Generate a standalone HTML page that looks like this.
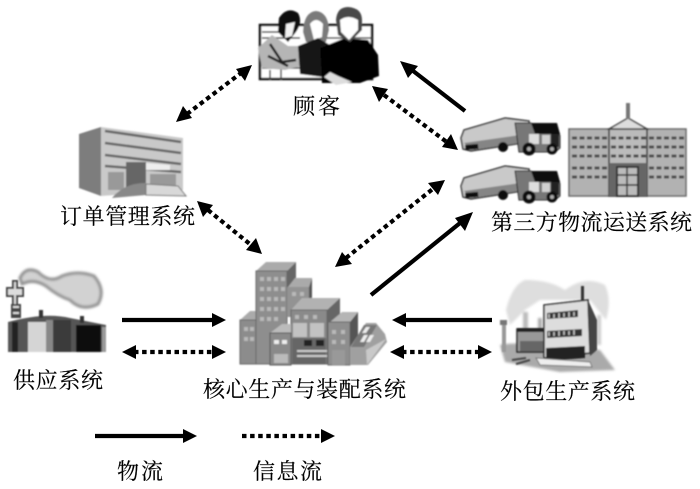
<!DOCTYPE html>
<html><head><meta charset="utf-8">
<style>
html,body{margin:0;padding:0;background:#fff;width:700px;height:489px;overflow:hidden}
svg{display:block}
text{font-family:"Liberation Serif","Noto Serif CJK SC",serif;font-size:22px;fill:#000;stroke:#000;stroke-width:.15px}
</style></head><body>
<svg width="700" height="489" viewBox="0 0 700 489" xmlns="http://www.w3.org/2000/svg">
<defs>
<filter id="b" x="-10%" y="-10%" width="120%" height="120%"><feGaussianBlur stdDeviation="0.7"/></filter>
<filter id="c" x="-20%" y="-20%" width="140%" height="140%"><feGaussianBlur stdDeviation="1.4"/></filter>
<filter id="t" x="-5%" y="-20%" width="110%" height="140%"><feGaussianBlur stdDeviation="0.3"/></filter>
<g id="truck">
<path d="M0 20 L3 12 L44 0 L68 3 L68 24 L10 33 L2 31Z" fill="#c9c9c9" stroke="#333" stroke-width="1.5"/>
<path d="M3 25 L66 16 L66 24 L10 32Z" fill="#858585"/>
<path d="M54 5 H70 L74 8 H96 L99 18 V30 L94 34 H58Z" fill="#777" stroke="#222"/>
<path d="M70 5 H96 L99 16 H74Z" fill="#0a0a0a"/>
<rect x="68" y="16" width="10" height="10" fill="#ddd"/><rect x="81" y="17" width="8" height="9" fill="#d0d0d0"/>
<rect x="90" y="16" width="8" height="13" fill="#222"/>
<circle cx="42" cy="29" r="5" fill="#111"/><circle cx="68" cy="31" r="6.5" fill="#0a0a0a"/><circle cx="68" cy="31" r="2.2" fill="#aaa"/><circle cx="91" cy="31" r="5.5" fill="#0a0a0a"/><circle cx="91" cy="31" r="2" fill="#aaa"/>
<rect x="4" y="27" width="13" height="5" fill="#111" transform="rotate(-5 4 27)"/>
</g>
</defs>

<!-- customers -->
<g filter="url(#b)">
<path d="M260 25 H372 V79 H260Z" fill="#fff" stroke="#111" stroke-width="2.5"/>
<path d="M262 38H300M262 32H285M320 38H372" stroke="#444" stroke-width="1.5"/>
<path d="M262 60H300M262 68H300M281 60V80M270 70V80" stroke="#444" stroke-width="1.5"/>
<path d="M258 48 L272 35 L288 46 L300 46 L302 66 L285 70 L262 68Z" fill="#b5b5b5"/>
<path d="M270 44 L282 62 L296 60 M268 56 L288 66" stroke="#222" stroke-width="2.5" fill="none"/>
<path d="M279 18 Q287 6 298 13 Q303 22 296 32 L288 42 L278 32Z" fill="#0a0a0a"/>
<path d="M286 24 L295 22 L292 36 L285 38Z" fill="#f2f2f2"/>
<path d="M303 32 Q304 12 316 11 Q328 12 329 30 L326 42 L306 42Z" fill="#7a7a7a"/>
<path d="M310 24 Q316 16 323 24 L322 37 L314 40Z" fill="#fff"/>
<path d="M298 46 L318 38 L330 45 V78 L300 74Z" fill="#151515"/>
<path d="M320 48 L345 38 L368 40 L378 55 L379 76 L360 83 H322Z" fill="#050505"/>
<path d="M336 20 Q337 7 348 7 Q362 8 362 20 V30 L350 42 L338 35Z" fill="#4a4a4a"/>
<path d="M340 20 Q348 14 358 20 V30 L349 40 L341 32Z" fill="#fff"/>
<path d="M324 77 L336 85 L352 82 L338 76 L330 72Z" fill="#ddd"/>
</g>

<!-- order management building -->
<g filter="url(#b)">
<path d="M79 134 L101 127 V196 L79 188Z" fill="#7d7d7d"/>
<path d="M101 127 L183 138 V190 L101 196Z" fill="#c9c9c9"/>
<path d="M105 131 L181 142 M105 143 L181 153 M105 155 L181 164 M105 166 L181 172" stroke="#666" stroke-width="2.5"/>
<rect x="126" y="162" width="20" height="26" fill="#666"/>
<path d="M146 163 L170 165 V170 L146 170Z" fill="#eee"/>
<path d="M108 172H124V190H108ZM150 174H176V188H150Z" fill="#999"/>
<path d="M112 198 Q124 183 146 183 L146 195Z" fill="#888"/>
<path d="M146 184 L178 186 L186 196 L146 195Z" fill="#d8d8d8" stroke="#777"/>
</g>

<!-- truck & HQ -->
<g filter="url(#b)">
<use href="#truck" x="461" y="118"/>
<use href="#truck" x="461" y="166"/>
<rect x="569" y="129" width="117" height="67" fill="#b2b2b2" stroke="#666" stroke-width="1.5"/>
<rect x="609" y="129" width="38" height="67" fill="#bbb" stroke="#333" stroke-width="1.5"/>
<path d="M609 129 L628 118 L647 129Z" fill="#ddd" stroke="#444" stroke-width="1.5"/>
<rect x="626" y="103" width="4" height="16" fill="#777"/>
<g stroke="#4a4a4a" stroke-width="3" stroke-dasharray="5 2.5" fill="none">
<path d="M572 138H608M572 147H608M572 156H608M572 168H608M572 177H608"/>
<path d="M611 138H646M611 147H646M611 156H646"/>
<path d="M649 138H684M649 147H684M649 156H684M649 168H684M649 177H684"/>
</g>
<rect x="609" y="163" width="38" height="33" fill="#666"/>
<rect x="617" y="167" width="21" height="29" fill="#bbb" stroke="#333" stroke-width="2"/>
<path d="M617 175H638M617 185H638M627 167V196" stroke="#333" stroke-width="1.5"/>
</g>

<!-- supply factory -->
<g filter="url(#c)">
<path d="M20 278 Q26 266 38 272 Q50 284 62 276 Q78 270 94 276 Q106 290 98 304 Q82 312 70 300 Q58 296 46 286 Q34 278 22 284Z" fill="#d2d2d2" stroke="#8f8f8f" stroke-width="3"/>
</g>
<g filter="url(#b)">
<path d="M13 281V288H7V296H13V305H17V296H23V288H17V281Z" fill="#ddd" stroke="#444" stroke-width="2"/>
<path d="M11 304H21V318H11Z" fill="#444"/>
<path d="M13 307H19M13 313H19" stroke="#ddd" stroke-width="2"/>
<path d="M8 322 Q45 312 70 318 L106 325 V352 H8Z" fill="#555"/>
<rect x="12" y="322" width="6" height="30" fill="#222"/>
<rect x="28" y="322" width="18" height="30" fill="#d5d5d5"/>
<rect x="46" y="320" width="7" height="32" fill="#888"/>
<rect x="53" y="320" width="18" height="32" fill="#3a3a3a"/>
<rect x="76" y="325" width="25" height="27" fill="#0c0c0c"/>
<rect x="102" y="327" width="4" height="25" fill="#999"/>
<rect x="39" y="310" width="4" height="8" fill="#333"/><rect x="80" y="316" width="4" height="7" fill="#333"/>
</g>

<!-- core building -->
<g filter="url(#b)">
<path d="M256 271 L266 262 H296 L287 271Z" fill="#aaa"/>
<path d="M287 271 L296 262 V300 H287Z" fill="#666"/>
<path d="M240 320 L250 311 H258 V320Z" fill="#aaa"/>
<rect x="240" y="320" width="18" height="44" fill="#8c8c8c" stroke="#666"/>
<rect x="256" y="271" width="31" height="93" fill="#8e8e8e" stroke="#666"/>
<path d="M288 287 L295 278 H312 L309 287Z" fill="#aaa"/><path d="M309 287 L312 278 V310 H309Z" fill="#555"/>
<rect x="287" y="287" width="22" height="30" fill="#939393"/>
<path d="M291 310 L302 298 H340 L327 310Z" fill="#b2b2b2"/>
<path d="M327 310 L340 298 V320 L327 335Z" fill="#666"/>
<rect x="291" y="310" width="36" height="54" fill="#8a8a8a" stroke="#666"/>
<rect x="293" y="323" width="14" height="14" fill="#c2c2c2"/><rect x="310" y="323" width="14" height="14" fill="#c2c2c2"/>
<rect x="292" y="338" width="34" height="26" fill="#666"/>
<rect x="304" y="340" width="8" height="6" fill="#222"/><rect x="316" y="340" width="8" height="6" fill="#222"/>
<path d="M297 351H327M297 356H327" stroke="#ccc" stroke-width="2"/>
<path d="M270 333 L282 324 H291 V333Z" fill="#bbb"/>
<rect x="270" y="333" width="21" height="32" fill="#8a8a8a" stroke="#555"/>
<rect x="274" y="340" width="5" height="4" fill="#eee"/><rect x="282" y="340" width="5" height="4" fill="#eee"/>
<rect x="274" y="354" width="14" height="9" fill="#bbb"/>
<path d="M330 322 L342 312 H358 L350 322Z" fill="#b5b5b5"/>
<path d="M350 322 L358 312 V345 L350 350Z" fill="#555"/>
<rect x="328" y="322" width="22" height="43" fill="#8e8e8e" stroke="#666"/>
<rect x="332" y="350" width="13" height="15" fill="#999"/>
<path d="M350 347 L366 323 H376 L385 334 L387 342 L368 365 H350Z" fill="#a0a0a0"/>
<path d="M351 347 L364 325 H377 L364 347Z" fill="#777"/>
<path d="M360 342 L364 335 H368 L364 342ZM366 342 L370 335 H374 L370 342ZM362 333 L366 327 H370 L366 333Z" fill="#eee"/>
<path d="M366 350 L386 339 L367 365Z" fill="#c9c9c9"/>
<g fill="#b9b9b9">
<rect x="260" y="277" width="4" height="4"/><rect x="267" y="277" width="4" height="4"/><rect x="274" y="277" width="4" height="4"/><rect x="281" y="277" width="4" height="4"/>
<rect x="260" y="287" width="4" height="4"/><rect x="267" y="287" width="4" height="4"/><rect x="274" y="287" width="4" height="4"/><rect x="281" y="287" width="4" height="4"/>
<rect x="260" y="297" width="4" height="4"/><rect x="267" y="297" width="4" height="4"/><rect x="274" y="297" width="4" height="4"/><rect x="281" y="297" width="4" height="4"/>
<rect x="260" y="307" width="4" height="4"/><rect x="267" y="307" width="4" height="4"/><rect x="274" y="307" width="4" height="4"/><rect x="281" y="307" width="4" height="4"/>
<rect x="260" y="317" width="4" height="4"/><rect x="267" y="317" width="4" height="4"/><rect x="274" y="317" width="4" height="4"/>
<rect x="244" y="327" width="4" height="4"/><rect x="250" y="327" width="4" height="4"/><rect x="244" y="337" width="4" height="4"/><rect x="250" y="337" width="4" height="4"/>
<rect x="292" y="292" width="4" height="4"/><rect x="300" y="292" width="4" height="4"/>
<rect x="295" y="315" width="4" height="4"/><rect x="304" y="315" width="4" height="4"/><rect x="313" y="315" width="4" height="4"/>
<rect x="332" y="330" width="4" height="4"/><rect x="341" y="330" width="4" height="4"/><rect x="332" y="340" width="4" height="4"/><rect x="341" y="340" width="4" height="4"/>
</g>
</g>

<!-- outsourcing factory -->
<g filter="url(#c)">
<path d="M506 310 Q512 285 525 280 Q550 280 565 290 Q585 275 605 285 Q612 300 606 320 L590 300 L540 300 L525 310 L510 325Z" fill="#dedede"/>
<rect x="523" y="312" width="5" height="18" fill="#bbb"/><rect x="538" y="318" width="4" height="14" fill="#aaa"/><rect x="597" y="315" width="4" height="30" fill="#ccc"/>
<path d="M500 345 Q520 340 600 350 L615 370 L560 372 L505 362Z" fill="#aaa"/>
</g>
<g filter="url(#b)">
<rect x="502" y="322" width="4" height="30" fill="#999"/>
<rect x="500" y="320" width="7" height="5" fill="#777"/>
<path d="M517 329H544V352H517Z" fill="#999" stroke="#222" stroke-width="1.5"/>
<rect x="520" y="341" width="23" height="10" fill="#666"/>
<rect x="517" y="328" width="28" height="4" fill="#222"/>
<path d="M544 305 L588 300 L590 353 L544 358Z" fill="#ddd" stroke="#222" stroke-width="1.5"/>
<path d="M588 300 L597 320 V350 L590 356Z" fill="#444"/>
<rect x="581" y="286" width="3" height="15" fill="#333"/>
<path d="M547 313 L578 310 V317 L547 319Z" fill="#333"/>
<path d="M549 314V318M554 314V318M559 313V318M564 313V317M569 312V317M574 312V316" stroke="#ccc" stroke-width="1.5"/>
<path d="M547 331 L582 329 V336 L547 338Z" fill="#333"/>
<path d="M549 332V336M554 332V336M559 331V336M564 331V335M569 331V335M574 330V335" stroke="#ccc" stroke-width="1.5"/>
<path d="M546 348 L585 346 V358 L546 361Z" fill="#222"/>
<path d="M536 358 L590 362 L592 367 L540 365Z" fill="#eee" stroke="#777"/>
<path d="M512 360 L526 358M516 364 L530 360" stroke="#444" stroke-width="2"/>
</g>

<!-- arrows -->
<g fill="#000" stroke="none" filter="url(#t)">
<g stroke="#000" stroke-width="4.2" fill="none" stroke-linecap="butt">
<path d="M465 111 L408 67"/>
<path d="M371 295 L465 219"/>
<path d="M122 320 L214 320"/>
<path d="M492 320 L404 320"/>
<path d="M95 436 L186 436"/>
</g>
<g stroke="#000" stroke-width="4.2" fill="none" stroke-dasharray="4.5 3.6">
<path d="M187 114 L241 73"/>
<path d="M384 95 L448 143"/>
<path d="M208 210 L251 245"/>
<path d="M346 258 L434 188"/>
<path d="M134 352 L214 352"/>
<path d="M402 352 L482 352"/>
<path d="M242 436 L320 436"/>
</g>
<polygon points="400,61 418,66 408,78"/>
<polygon points="473,212 455,218 465,231"/>
<polygon points="226,320 212,313 212,327"/>
<polygon points="392,320 406,313 406,327"/>
<polygon points="197,436 183,429 183,443"/>
<polygon points="252,65 236,69 245,81"/>
<polygon points="176,122 192,118 183,106"/>
<polygon points="372,86 388,89 379,102"/>
<polygon points="458,150 442,147 451,134"/>
<polygon points="197,201 213,205 203,217"/>
<polygon points="262,254 246,250 256,238"/>
<polygon points="335,267 342,252 352,264"/>
<polygon points="445,180 438,195 428,183"/>
<polygon points="122,352 136,345 136,359"/>
<polygon points="226,352 212,345 212,359"/>
<polygon points="390,352 404,345 404,359"/>
<polygon points="492,352 478,345 478,359"/>
<polygon points="335,436 321,429 321,443"/>
</g>

<!-- labels -->
<g filter="url(#t)">
<text x="293" y="114" textLength="47" lengthAdjust="spacing">顾客</text>
<text x="60" y="224" textLength="135" lengthAdjust="spacing">订单管理系统</text>
<text x="491" y="230" textLength="201" lengthAdjust="spacing">第三方物流运送系统</text>
<text x="13" y="388" textLength="90" lengthAdjust="spacing">供应系统</text>
<text x="203" y="397" textLength="203" lengthAdjust="spacing">核心生产与装配系统</text>
<text x="500" y="399" textLength="135" lengthAdjust="spacing">外包生产系统</text>
<text x="117" y="479" textLength="46" lengthAdjust="spacing">物流</text>
<text x="253" y="479" textLength="69" lengthAdjust="spacing">信息流</text>
</g>
</svg>
</body></html>
